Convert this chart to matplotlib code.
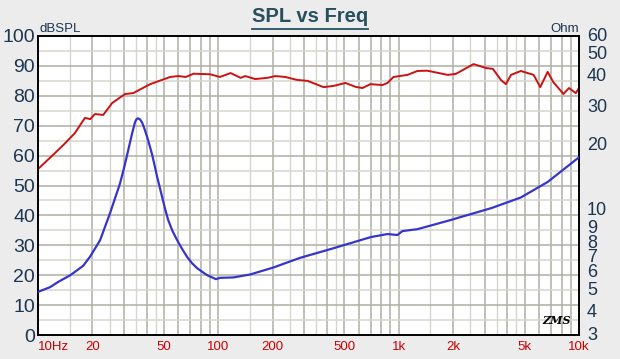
import matplotlib
matplotlib.use('Agg')
import matplotlib.pyplot as plt
import matplotlib.transforms as mtransforms
from matplotlib.lines import Line2D

# SPL response (Hz, dB)
spl_freq = [10, 12.1, 13.8, 16.0, 18.2, 19.5, 20.7, 23.0, 25.8, 30.4, 33.7, 41.9,
            54.1, 60, 66, 73, 80, 90, 102, 117, 133, 141, 160, 187, 207, 235,
            274, 312, 383, 435, 507, 576, 630, 697, 813, 867, 936, 1120, 1270,
            1440, 1870, 2070, 2600, 3050, 3330, 3690, 3930, 4200, 4760, 5600,
            6100, 6700, 7200, 8200, 8800, 9600, 10000]
spl_db = [55.5, 60.2, 63.5, 67.5, 72.6, 72.2, 73.9, 73.6, 77.6, 80.6, 80.9, 83.9,
          86.3, 86.6, 86.3, 87.4, 87.3, 87.2, 86.3, 87.6, 86.0, 86.6, 85.6, 86.0,
          86.6, 86.3, 85.3, 85.0, 82.9, 83.3, 84.3, 83.0, 82.6, 83.9, 83.6, 84.3,
          86.3, 87.0, 88.3, 88.4, 87.0, 87.3, 90.6, 89.3, 89.0, 85.3, 83.9, 87.0,
          88.3, 87.0, 82.9, 88.0, 84.6, 80.6, 82.6, 80.9, 82.6]

# impedance (Hz, Ohm)
imp_freq = [10, 11.7, 12.9, 15.1, 17.8, 19.5, 22.1, 25.1, 28.5, 30.0, 31.2, 32.3,
            33.3, 34.5, 35.2, 35.9, 36.8, 37.8, 39.0, 40.3, 41.6, 43.0, 44.4,
            45.8, 47.3, 48.8, 50.7, 52.7, 55.7, 59.1, 63.0, 67.3, 71.6, 76.3,
            81.4, 86.8, 92, 97, 102, 121, 150, 202, 284, 418, 541, 700, 867, 984,
            1050, 1270, 1950, 2100, 3270, 4760, 6700, 10000]
imp_ohm = [4.62, 4.85, 5.1, 5.46, 6.0, 6.6, 7.76, 10.18, 13.7, 16.0, 18.2, 20.5,
           22.7, 25.3, 26.1, 26.3, 26.0, 25.2, 23.6, 21.8, 20.0, 18.2, 16.3,
           14.6, 13.2, 11.95, 10.6, 9.5, 8.5, 7.76, 7.1, 6.54, 6.15, 5.86,
           5.65, 5.46, 5.35, 5.25, 5.32, 5.34, 5.5, 5.9, 6.5, 7.09, 7.53, 8.0,
           8.25, 8.17, 8.5, 8.66, 9.5, 9.67, 10.7, 11.9, 13.9, 17.8]

x_ticks = [10, 20, 50, 100, 200, 500, 1000, 2000, 5000, 10000]
x_labels = ['10Hz', '20', '50', '100', '200', '500', '1k', '2k', '5k', '10k']
db_ticks = list(range(0, 101, 10))
ohm_ticks = [3, 4, 5, 6, 7, 8, 9, 10, 20, 30, 40, 50, 60]
# label nudges (pixels, + = down) so the crowded ones do not collide
ohm_nudge = {3: 0, 4: 6, 5: 6, 6: 7, 7: 7, 8: 6, 9: 3, 10: -4, 20: 0,
             30: 2, 40: 0, 50: 0, 60: 0}

navy = '#1c3550'
plt.rcParams['font.family'] = ['Liberation Sans', 'DejaVu Sans']

fig = plt.figure(figsize=(6.2, 3.59), dpi=100, facecolor='#ececec')
ax = fig.add_axes([38 / 620, 1 - 335 / 359, 541 / 620, 299 / 359])
ax.set_facecolor('white')
ax.set_xscale('log')
ax.set_xlim(10, 10000)
ax.set_ylim(0, 100)

# grid
for dec in [10, 100, 1000]:
    for k in range(1, 10):
        ax.axvline(dec * k, color='#b0afa4', lw=1.1, zorder=0)
    for k in [1.5, 2.5, 3.5, 4.5]:
        ax.axvline(dec * k, color='#d6d6cf', lw=1.0, zorder=0)
for v in range(5, 100, 5):
    c = '#b0afa4' if v % 10 == 0 else '#d6d6cf'
    ax.axhline(v, color=c, lw=1.1, zorder=0)

ax.plot(spl_freq, spl_db, color='#cc1111', lw=1.4, zorder=3)

ax.set_xticks(x_ticks)
ax.set_xticklabels(x_labels)
ax.set_xticks([], minor=True)
ax.set_yticks(db_ticks)
ax.tick_params(axis='x', length=0, pad=4, labelsize=9.5, labelcolor='#cc0000')
ax.tick_params(axis='y', length=0, pad=2, labelsize=14, labelcolor=navy)
ax.get_xticklabels()[0].set_ha('left')
for s in ax.spines.values():
    s.set_color('black')
    s.set_linewidth(1.2)

ax2 = ax.twinx()
ax2.set_yscale('log')
ax2.set_ylim(3, 60)
ax2.plot(imp_freq, imp_ohm, color='#3535cc', lw=1.6, zorder=3)
ax2.set_yticks([])
ax2.set_yticks([], minor=True)
for s in ax2.spines.values():
    s.set_color('black')
    s.set_linewidth(1.2)

blend = mtransforms.blended_transform_factory(ax2.transAxes, ax2.transData)
for t in ohm_ticks:
    tr = blend + mtransforms.ScaledTranslation(8 / 100, -ohm_nudge[t] / 100,
                                               fig.dpi_scale_trans)
    ax2.text(1.0, t, str(t), transform=tr, ha='left', va='center',
             fontsize=13, color=navy, clip_on=False)

ax.text(0.003, 1.005, 'dBSPL', transform=ax.transAxes, ha='left', va='bottom',
        fontsize=9.5, color=navy)
ax.text(1.0, 1.005, 'Ohm', transform=ax.transAxes, ha='right', va='bottom',
        fontsize=9.5, color=navy)
ax.text(0.985, 0.03, 'ZMS', transform=ax.transAxes, ha='right', va='bottom',
        fontsize=8, fontstyle='italic', fontweight='bold', color='black',
        family='DejaVu Serif')

title = fig.text(0.5, 1 - 17 / 359, 'SPL vs Freq', ha='center', va='center',
                 fontsize=14.5, fontweight='bold', color='#27505f')
fig.canvas.draw()
bb = title.get_window_extent()
uy = (bb.y0 - 2) / fig.bbox.height
fig.add_artist(Line2D([bb.x0 / fig.bbox.width, bb.x1 / fig.bbox.width], [uy, uy],
                      color='#27505f', lw=1.3, transform=fig.transFigure))

fig.savefig('out.png', dpi=100, facecolor=fig.get_facecolor())
